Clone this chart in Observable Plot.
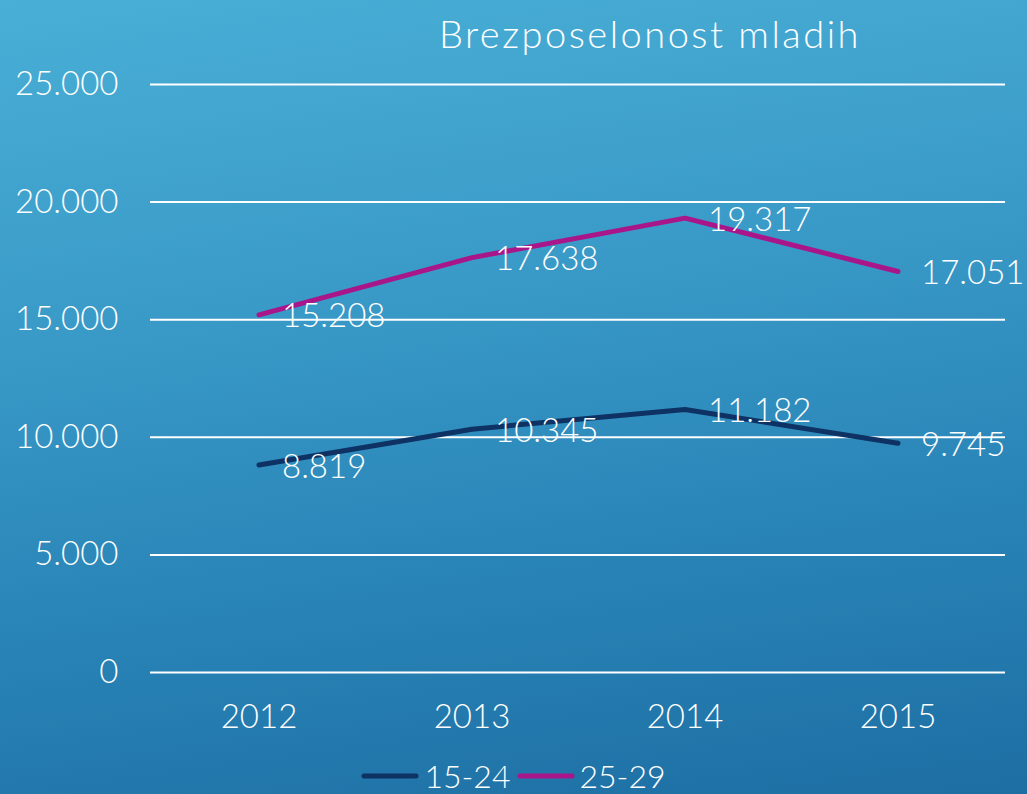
<!DOCTYPE html>
<html><head><meta charset="utf-8">
<script src="https://cdn.jsdelivr.net/npm/d3@7"></script>
<script src="https://cdn.jsdelivr.net/npm/@observablehq/plot@0.6"></script>
<style>
html,body{margin:0;padding:0;}
body{width:1027px;height:794px;overflow:hidden;font-family:Lato,"Open Sans",sans-serif;}
#wrap{position:relative;width:1027px;height:794px;background:linear-gradient(172deg,#49afd6 0%,#3a9bc8 35%,#2a86b8 65%,#1d6ea3 100%);}
#title{position:absolute;left:0;top:10px;width:1300px;text-align:center;color:#fff;font-size:38px;font-weight:300;letter-spacing:2.5px;}
#chart{position:absolute;left:0;top:0;}
#legend{position:absolute;left:0;top:760px;height:32px;line-height:32px;width:1027px;display:flex;justify-content:center;align-items:center;color:#fff;font-size:32px;font-weight:300;}
#legend .item{display:flex;align-items:center;margin:0 3px;}
#legend svg{margin-right:5px;}
</style></head><body>
<div id="wrap">
<div id="title">Brezposelonost mladih</div>
<div id="chart"></div>
<div id="legend"></div>
</div>
<script>
const years = ["2012","2013","2014","2015"];
const seriesNames = ["15-24","25-29"];
const values1524 = [8819,10345,11182,9745];
const values2529 = [15208,17638,19317,17051];
const yTicks = [0,5000,10000,15000,20000,25000];
const colors = ["#0d3263","#a8168a"];

const data = [];
years.forEach((y,i)=>{
  data.push({year:y, series:seriesNames[0], value:values1524[i]});
  data.push({year:y, series:seriesNames[1], value:values2529[i]});
});
const fmt = d => d3.format(",")(d).replace(/,/g,".");

const chart = Plot.plot({
  width:1027, height:750,
  marginTop:84, marginBottom:78, marginLeft:150, marginRight:22,
  style:{background:"transparent", color:"#fff", fontFamily:"Lato, 'Open Sans', sans-serif", fontSize:"33px", fontWeight:300},
  x:{type:"band", domain:years, padding:0, label:null, tickSize:0, tickPadding:32},
  y:{domain:[0,25000], ticks:yTicks, tickFormat:fmt, label:null, tickSize:0, tickPadding:32},
  color:{domain:seriesNames, range:colors},
  marks:[
    Plot.gridY(yTicks,{stroke:"#fff", strokeOpacity:1, strokeWidth:2}),
    Plot.lineY(data,{x:"year", y:"value", z:"series", stroke:"series", strokeWidth:5, strokeLinecap:"round", strokeLinejoin:"round"}),
    Plot.text(data,{x:"year", y:"value", text:d=>fmt(d.value), dx:23, dy:2, textAnchor:"start", fill:"#fff", fontSize:33, fontWeight:300})
  ]
});
document.getElementById("chart").appendChild(chart);

const leg = document.getElementById("legend");
seriesNames.forEach((s,i)=>{
  const it = document.createElement("div"); it.className="item";
  it.innerHTML = `<svg width="58" height="10"><line x1="3" y1="5" x2="55" y2="5" stroke="${colors[i]}" stroke-width="5" stroke-linecap="round"/></svg><span>${s}</span>`;
  leg.appendChild(it);
});
</script>
</body></html>
